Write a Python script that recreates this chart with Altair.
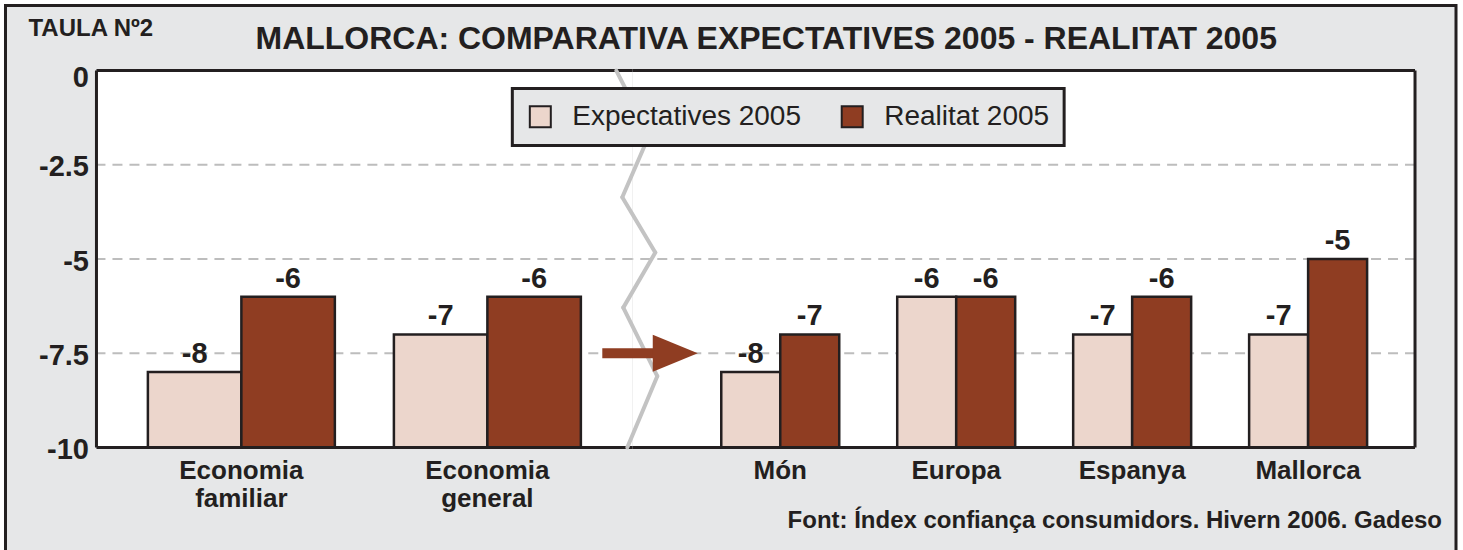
import altair as alt
import pandas as pd

# ---------------- data ----------------
categories = ["Economia familiar", "Economia general", "Món", "Europa", "Espanya", "Mallorca"]
left_categories = categories[:2]
right_categories = categories[2:]
series_names = ["Expectatives 2005", "Realitat 2005"]
expectatives = [-8, -7, -8, -6, -7, -7]
realitat = [-6, -6, -7, -6, -6, -5]
y_ticks = [0, -2.5, -5, -7.5, -10]
grid_values = [-2.5, -5, -7.5]
title_text = "MALLORCA: COMPARATIVA EXPECTATIVES 2005 - REALITAT 2005"
tag_text = "TAULA Nº2"
source_text = "Font: Índex confiança consumidors. Hivern 2006. Gadeso"
# decorative break line: pixel offsets from the panel split, y in data units
zig_x = [-16, 17, -10, 23, -9, 25, -5]
zig_y = [0, -1.71, -3.36, -4.83, -6.29, -8.11, -10]
arrow_y = -7.5

# ---------------- styles ----------------
LIGHT = "#ecd6cc"
DARK = "#8f3d22"
INK = "#231f20"
BG = "#e6e7e8"
GRID = "#bdbdbd"
ZIG = "#c3c3c3"
FONT = "Liberation Sans"
W1, W2, H = 536, 783, 377

rows = []
for i, c in enumerate(categories):
    rows.append({"category": c, "series": series_names[0], "value": expectatives[i], "label": str(expectatives[i])})
    rows.append({"category": c, "series": series_names[1], "value": realitat[i], "label": str(realitat[i])})
df = pd.DataFrame(rows)
df_left = df[df.category.isin(left_categories)]
df_right = df[df.category.isin(right_categories)]
one = pd.DataFrame({"k": [0]})
grid_df = pd.DataFrame({"v": grid_values})

yscale = alt.Scale(domain=[-10, 0], nice=False, zero=False)
color = alt.Color(
    "series:N",
    sort=series_names,
    scale=alt.Scale(domain=series_names, range=[LIGHT, DARK]),
    legend=alt.Legend(
        orient="none", legendX=416, legendY=18, direction="horizontal", title=None,
        fillColor=BG, strokeColor=INK, padding=14, columnPadding=36, labelOffset=18,
        symbolType="square", symbolSize=441, symbolStrokeColor=INK, symbolStrokeWidth=2,
        labelFont=FONT, labelFontSize=28, labelColor=INK, labelLimit=0,
    ),
)
xoff = alt.XOffset("series:N", sort=series_names, scale=alt.Scale(paddingInner=0, paddingOuter=0))

def x_axis(split):
    kw = dict(labelFont=FONT, labelFontSize=26, labelFontWeight="bold", labelColor=INK,
              labelPadding=10, labelAngle=0, ticks=False, domain=False, grid=False,
              zindex=1, labelLineHeight=28, labelLimit=0)
    if split:
        kw["labelExpr"] = "split(datum.label, ' ')"
    return alt.Axis(**kw)

def y_axis(show):
    if not show:
        return None
    return alt.Axis(values=y_ticks, labelExpr="toString(datum.value)", labelFont=FONT,
                    labelFontSize=29, labelFontWeight="bold", labelColor=INK, labelPadding=8,
                    ticks=False, domain=False, grid=False, zindex=1, labelBaseline="middle",
                    labelOffset=alt.condition("datum.value == 0", alt.value(7), alt.value(2)))

xs_left = alt.Scale(type="band", paddingInner=0.24, paddingOuter=0.209, align=0.5)
xs_right = alt.Scale(type="band", paddingInner=0.3295, paddingOuter=0.389, align=0.65)

def panel_marks(data, cats, xs, split, show_y):
    xenc = alt.X("category:N", sort=cats, scale=xs, axis=x_axis(split), title=None)
    grid = alt.Chart(grid_df).mark_rule(color=GRID, strokeWidth=2, strokeDash=[10, 7]).encode(
        y=alt.Y("v:Q", scale=yscale, axis=y_axis(show_y), title=None))
    bars = alt.Chart(data).mark_bar(stroke=INK, strokeWidth=2.5).encode(
        x=xenc, xOffset=xoff,
        y=alt.Y("value:Q", scale=yscale, axis=y_axis(show_y), title=None),
        y2=alt.Y2(datum=-10), color=color)
    texts = alt.Chart(data).mark_text(font=FONT, fontSize=29, fontWeight="bold", color=INK,
                                      baseline="alphabetic", dy=-9).encode(
        x=xenc, xOffset=xoff,
        y=alt.Y("value:Q", scale=yscale, axis=y_axis(show_y), title=None),
        text="label:N")
    return grid, bars, texts

def frame_rule(**enc):
    return alt.Chart(one).mark_rule(color=INK, strokeWidth=3).encode(**enc)

# ---------------- left panel ----------------
bg = alt.Chart(one).mark_rect(fill=BG, stroke=INK, strokeWidth=3).encode(
    x=alt.value(-91), x2=alt.value(1360), y=alt.value(-65), y2=alt.value(490))
white = alt.Chart(one).mark_rect(fill="white").encode(
    x=alt.value(0), x2=alt.value(W1), y=alt.value(0), y2=alt.value(H))
g1, b1, t1 = panel_marks(df_left, left_categories, xs_left, True, True)
title = alt.Chart(pd.DataFrame({"t": [title_text]})).mark_text(
    font=FONT, fontSize=32, fontWeight="bold", color=INK, align="center", baseline="alphabetic"
).encode(x=alt.value(670), y=alt.value(-22), text="t:N")
tag = alt.Chart(pd.DataFrame({"t": [tag_text]})).mark_text(
    font=FONT, fontSize=24, fontWeight="bold", color=INK, align="left", baseline="alphabetic"
).encode(x=alt.value(-68), y=alt.value(-35), text="t:N")
source = alt.Chart(pd.DataFrame({"t": [source_text]})).mark_text(
    font=FONT, fontSize=24, fontWeight="bold", color=INK, align="right", baseline="alphabetic"
).encode(x=alt.value(1346), y=alt.value(458), text="t:N")

left = alt.layer(
    bg, white, g1, b1, t1,
    frame_rule(x=alt.value(0), y=alt.value(0), y2=alt.value(H)),
    frame_rule(x=alt.value(0), x2=alt.value(W1), y=alt.value(0)),
    frame_rule(x=alt.value(0), x2=alt.value(W1), y=alt.value(H)),
    title, tag, source,
).properties(width=W1, height=H)

# ---------------- right panel ----------------
g2, b2, t2 = panel_marks(df_right, right_categories, xs_right, False, False)
zig_parts = []
for i in range(len(zig_x) - 1):
    zig_parts.append(
        alt.Chart(one).mark_rule(color=ZIG, strokeWidth=4, strokeCap="round").encode(
            x=alt.value(zig_x[i]), x2=alt.value(zig_x[i + 1]),
            y=alt.Y(datum=zig_y[i], type="quantitative", scale=yscale, axis=None, title=None),
            y2=alt.Y2(datum=zig_y[i + 1]))
    )
shaft = alt.Chart(one).mark_rule(color=DARK, strokeWidth=10).encode(
    x=alt.value(-30), x2=alt.value(22),
    y=alt.Y(datum=arrow_y, type="quantitative", scale=yscale, axis=None, title=None))
head = alt.Chart(one).mark_point(shape="M-1,-0.82L1,0L-1,0.82Z", size=2025, filled=True,
                                 fill=DARK, opacity=1, strokeWidth=0).encode(
    x=alt.value(43),
    y=alt.Y(datum=arrow_y, type="quantitative", scale=yscale, axis=None, title=None))

right = alt.layer(
    g2, *zig_parts, shaft, head, b2, t2,
    frame_rule(x=alt.value(W2), y=alt.value(0), y2=alt.value(H)),
    frame_rule(x=alt.value(0), x2=alt.value(W2), y=alt.value(0)),
    frame_rule(x=alt.value(0), x2=alt.value(W2), y=alt.value(H)),
).properties(width=W2, height=H)

chart = alt.hconcat(left, right, spacing=0, bounds="flush").resolve_scale(
    color="shared", xOffset="independent", x="independent").resolve_legend(color="shared").properties(
    padding={"left": 3.5, "top": 3.5, "right": 5, "bottom": 0}
).configure(background="white").configure_view(fill="white", stroke="transparent").configure_legend(
    strokeWidth=3)

chart.save("out.html", embed_options={"renderer": "svg", "actions": False})
